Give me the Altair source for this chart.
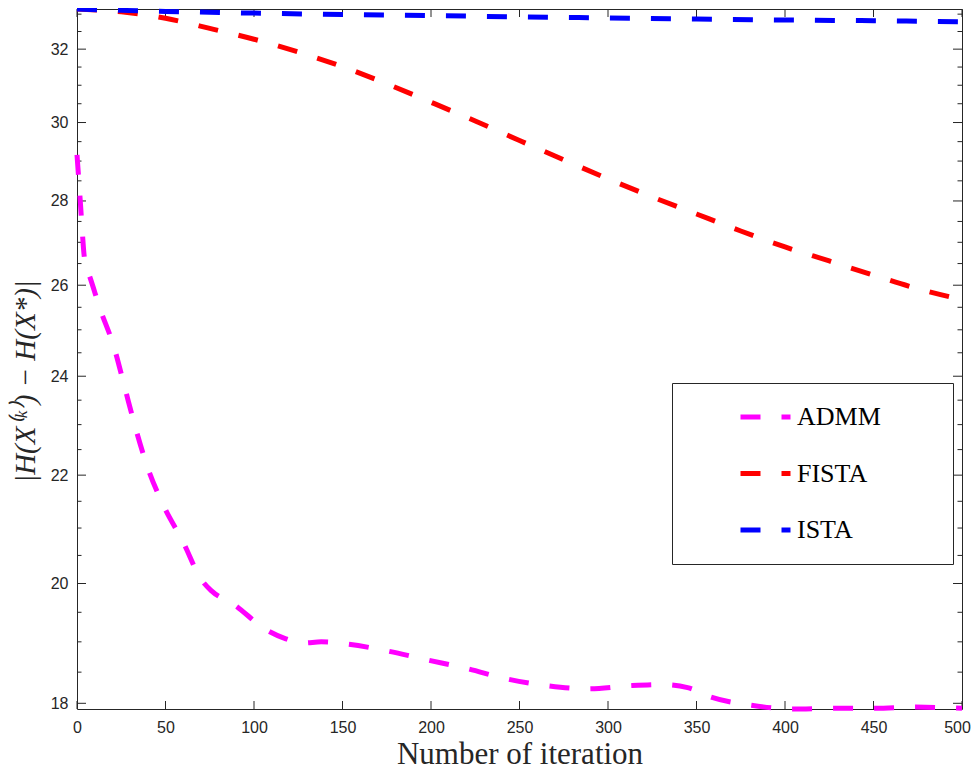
import altair as alt
import pandas as pd

# ---- data ----
iter_admm = [0, 1, 2, 3, 4, 5, 7, 13, 21, 27, 33, 40, 49, 60, 70, 76, 88, 107, 118, 128,
             138, 151, 175, 198, 220, 243, 266, 289, 312, 330, 345, 358, 381, 404, 428,
             451, 474, 500]
admm = [29.16, 28.53, 27.90, 27.25, 26.70, 26.45, 26.22, 25.47, 24.61, 23.76, 22.94, 22.14,
        21.41, 20.74, 20.08, 19.87, 19.65, 19.20, 19.05, 18.98, 19.00, 18.97, 18.85, 18.70,
        18.56, 18.39, 18.28, 18.23, 18.28, 18.30, 18.25, 18.10, 17.97, 17.91, 17.92, 17.92,
        17.94, 17.92]

iter_fista = [0, 25, 50, 75, 100, 125, 150, 175, 200, 225, 250, 275, 300, 325, 350, 375,
              400, 425, 450, 475, 500]
fista = [33.15, 33.07, 32.88, 32.59, 32.28, 31.92, 31.51, 31.04, 30.54, 30.04, 29.53, 29.03,
         28.55, 28.10, 27.68, 27.27, 26.89, 26.56, 26.23, 25.92, 25.67]

iter_ista = [0, 25, 50, 100, 150, 200, 250, 300, 350, 400, 450, 500]
ista = [33.15, 33.11, 33.08, 33.03, 32.99, 32.96, 32.92, 32.89, 32.86, 32.83, 32.81, 32.78]

methods = ["ADMM", "FISTA", "ISTA"]
colors = ["#FF00FF", "#FF0000", "#0000FF"]

x_ticks = [0, 50, 100, 150, 200, 250, 300, 350, 400, 450, 500]
y_ticks = [18, 20, 22, 24, 26, 28, 30, 32]
y_minor = [18.5, 19, 19.5, 20.5, 21, 21.5, 22.5, 23, 23.5, 24.5, 25, 25.5, 26.5, 27, 27.5,
           28.5, 29, 29.5, 30.5, 31, 31.5, 32.5, 33]
y_domain = [17.91, 33.15]
x_domain = [0, 500]

# ---- build table ----
rows = []
for name, its, vals in [("ADMM", iter_admm, admm), ("FISTA", iter_fista, fista), ("ISTA", iter_ista, ista)]:
    rows += [{"method": name, "iter": i, "value": v} for i, v in zip(its, vals)]
df = pd.DataFrame(rows)

W, H = 885, 700
AX = "#262626"
yscale = alt.Scale(type="log", domain=y_domain, nice=False)
xscale = alt.Scale(domain=x_domain, nice=False, zero=False)

x_axis = alt.Axis(
    values=x_ticks, format="d", title="Number of iteration",
    titleFont="Liberation Serif", titleFontSize=31, titleFontWeight="normal", titleColor=AX,
    titleX=W / 2, titleY=54, titleAlign="center", titleBaseline="alphabetic",
    labelFont="Liberation Sans", labelFontSize=16, labelColor=AX, labelPadding=10,
    labelOffset={"condition": {"test": "datum.value == 500", "value": -5}, "value": 0},
    labelFlush=False, labelOverlap=False, ticks=False, domain=False, grid=False)
y_axis = alt.Axis(
    values=y_ticks, format="d", title="|H(X\u207d\u1d4f\u207e) \u2212 H(X*)|",
    titleFont="Liberation Serif", titleFontStyle="italic", titleFontSize=29,
    titleFontWeight="normal", titleColor=AX, titleAngle=270, titleAlign="center",
    titleBaseline="alphabetic", titleX=-43, titleY=372,
    labelFont="Liberation Sans", labelFontSize=16, labelColor=AX, labelPadding=9,
    labelOverlap=False, ticks=False, domain=False, grid=False)

pad = "\u00a0" * 9 + "\u202f" + "\u200b"
lines = alt.Chart(df).mark_line(
    strokeWidth=5, strokeDash=[20, 21], interpolate="monotone", clip=False
).encode(
    x=alt.X("iter:Q", scale=xscale, axis=x_axis),
    y=alt.Y("value:Q", scale=yscale, axis=y_axis),
    color=alt.Color("method:N", scale=alt.Scale(domain=methods, range=colors), legend=alt.Legend(
        title=None, orient="none", legendX=595, legendY=374, direction="vertical",
        symbolType="stroke", symbolSize=2500, symbolStrokeWidth=5, symbolDash=[20, 21],
        symbolOffset=58, labelFont="Liberation Serif", labelFontSize=26, labelColor="black",
        labelOffset=4, labelLimit=500,
        labelExpr="datum.label + '" + pad + "'",
        padding=8, rowPadding=4.5, clipHeight=52, strokeColor=AX, fillColor="white",
        cornerRadius=0)),
)

def ytick_layer(values, length, side):
    x0, x1 = (0, length) if side == "left" else (W - length, W)
    return alt.Chart(pd.DataFrame({"value": values})).mark_rule(color=AX, strokeWidth=1).encode(
        y=alt.Y("value:Q", scale=yscale, axis=y_axis), x=alt.value(x0), x2=alt.value(x1))

def xtick_layer(values, length, side):
    y0, y1 = (H, H - length) if side == "bottom" else (0, length)
    return alt.Chart(pd.DataFrame({"iter": values})).mark_rule(color=AX, strokeWidth=1).encode(
        x=alt.X("iter:Q", scale=xscale, axis=x_axis), y=alt.value(y0), y2=alt.value(y1))

chart = alt.layer(
    ytick_layer(y_ticks, 9, "left"), ytick_layer(y_ticks, 9, "right"),
    ytick_layer(y_minor, 4.5, "left"), ytick_layer(y_minor, 4.5, "right"),
    xtick_layer(x_ticks, 8, "bottom"), xtick_layer(x_ticks, 8, "top"),
    lines,
).properties(
    width=W, height=H,
    padding={"left": 69, "top": 1, "right": 10, "bottom": 62},
    autosize=alt.AutoSizeParams(type="none"),
    background="white",
).configure_view(stroke=AX, strokeWidth=1)

chart.save("out.html", embed_options={"renderer": "svg", "actions": False})
